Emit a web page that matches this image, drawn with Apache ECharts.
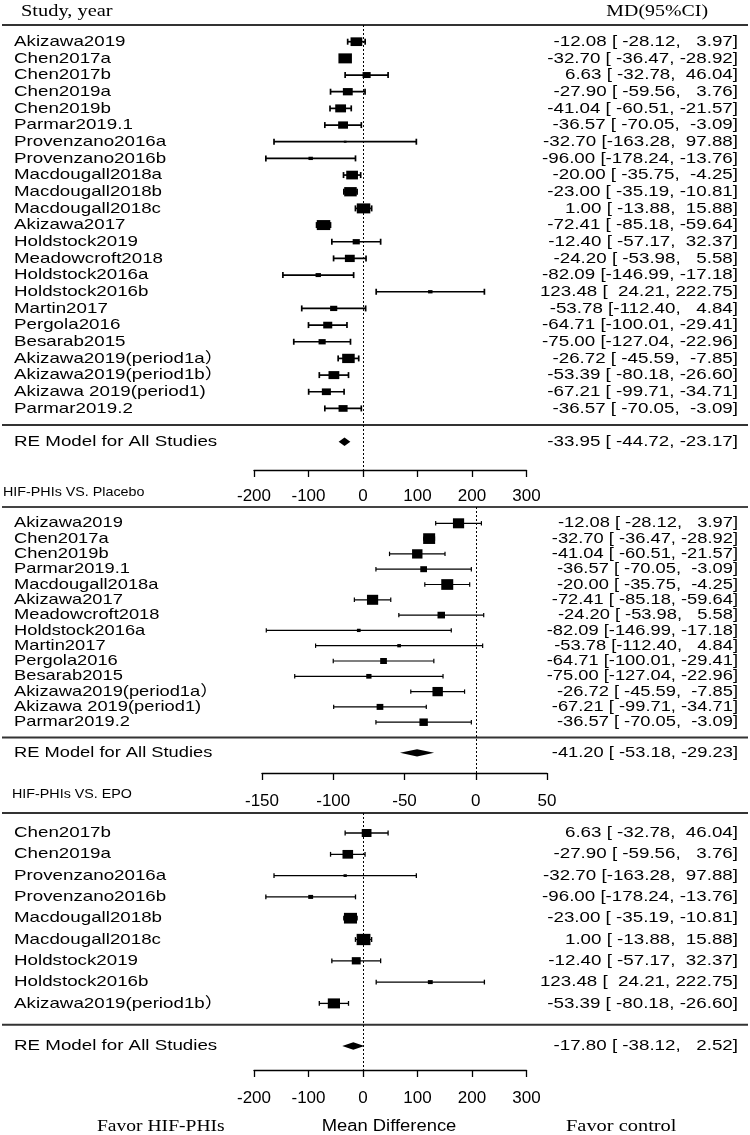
<!DOCTYPE html>
<html><head><meta charset="utf-8">
<script src="https://cdn.jsdelivr.net/npm/echarts@6/dist/echarts.min.js"></script>
<style>html,body{margin:0;padding:0;background:#fff}#c{width:750px;height:1135px}</style>
</head><body><div id="c"></div>
<script>
// ---------------- DATA ----------------
// Panel 1: all studies (HIF-PHIs vs. Placebo header sits under its axis)
const studies1 = ['Akizawa2019','Chen2017a','Chen2017b','Chen2019a','Chen2019b','Parmar2019.1','Provenzano2016a','Provenzano2016b','Macdougall2018a','Macdougall2018b','Macdougall2018c','Akizawa2017','Holdstock2019','Meadowcroft2018','Holdstock2016a','Holdstock2016b','Martin2017','Pergola2016','Besarab2015','Akizawa2019(period1a）','Akizawa2019(period1b）','Akizawa 2019(period1)','Parmar2019.2'];
const md1 = [-12.08,-32.70,6.63,-27.90,-41.04,-36.57,-32.70,-96.00,-20.00,-23.00,1.00,-72.41,-12.40,-24.20,-82.09,123.48,-53.78,-64.71,-75.00,-26.72,-53.39,-67.21,-36.57];
const lo1 = [-28.12,-36.47,-32.78,-59.56,-60.51,-70.05,-163.28,-178.24,-35.75,-35.19,-13.88,-85.18,-57.17,-53.98,-146.99,24.21,-112.40,-100.01,-127.04,-45.59,-80.18,-99.71,-70.05];
const hi1 = [3.97,-28.92,46.04,3.76,-21.57,-3.09,97.88,-13.76,-4.25,-10.81,15.88,-59.64,32.37,5.58,-17.18,222.75,4.84,-29.41,-22.96,-7.85,-26.60,-34.71,-3.09];
const weight1 = [8.7,10,6,7.3,8,7.3,2,3.3,8.7,9.3,10,10,5.3,7.3,4,3.3,5.3,6.7,5.3,9.3,8,6.7,6.7];
const pooled1 = [-33.95,-44.72,-23.17];
const ticks1 = [-200,-100,0,100,200,300];
const title1 = 'HIF-PHIs VS. Placebo';

// Panel 2
const studies2 = ['Akizawa2019','Chen2017a','Chen2019b','Parmar2019.1','Macdougall2018a','Akizawa2017','Meadowcroft2018','Holdstock2016a','Martin2017','Pergola2016','Besarab2015','Akizawa2019(period1a）','Akizawa 2019(period1)','Parmar2019.2'];
const md2 = [-12.08,-32.70,-41.04,-36.57,-20.00,-72.41,-24.20,-82.09,-53.78,-64.71,-75.00,-26.72,-67.21,-36.57];
const lo2 = [-28.12,-36.47,-60.51,-70.05,-35.75,-85.18,-53.98,-146.99,-112.40,-100.01,-127.04,-45.59,-99.71,-70.05];
const hi2 = [3.97,-28.92,-21.57,-3.09,-4.25,-59.64,5.58,-17.18,4.84,-29.41,-22.96,-7.85,-34.71,-3.09];
const weight2 = [10,10.7,9.3,6,10.7,10,6.7,3.3,3.3,6,4.7,9.3,6,7.5];
const pooled2 = [-41.20,-53.18,-29.23];
const ticks2 = [-150,-100,-50,0,50];
const title2 = 'HIF-PHIs VS. EPO';

// Panel 3
const studies3 = ['Chen2017b','Chen2019a','Provenzano2016a','Provenzano2016b','Macdougall2018b','Macdougall2018c','Holdstock2019','Holdstock2016b','Akizawa2019(period1b）'];
const md3 = [6.63,-27.90,-32.70,-96.00,-23.00,1.00,-12.40,123.48,-53.39];
const lo3 = [-32.78,-59.56,-163.28,-178.24,-35.19,-13.88,-57.17,24.21,-80.18];
const hi3 = [46.04,3.76,97.88,-13.76,-10.81,15.88,32.37,222.75,-26.60];
const weight3 = [8,8.7,2.7,4,10.7,11.3,7.3,4,10];
const pooled3 = [-17.80,-38.12,2.52];
const ticks3 = [-200,-100,0,100,200,300];

const pooledLabel = 'RE Model for All Studies';
const headerLeft = 'Study, year';
const headerRight = 'MD(95%CI)';
const footLeft = 'Favor HIF-PHIs';
const footMid = 'Mean Difference';
const footRight = 'Favor control';

// ---------------- LAYOUT / STYLE ----------------
const SANS = "'Liberation Sans', Arial, 'Noto Sans CJK SC', sans-serif";
const SERIF = "'Liberation Serif', 'Times New Roman', serif";
const LEFT_X = 14, RIGHT_X = 738;

const panels = [
  {names:studies1, md:md1, lo:lo1, hi:hi1, w:weight1, pooled:pooled1, ticks:ticks1,
   left:254, right:526.5, top:25, axisY:470, firstRowY:41.7, rowH:16.67,
   aspect:1.35, lw:1.7, wh:3, dh:4.3, sx:1.25, labelMargin:17.5},
  {names:studies2, md:md2, lo:lo2, hi:hi2, w:weight2, pooled:pooled2, ticks:ticks2,
   left:262, right:547, top:507, axisY:773, firstRowY:523.3, rowH:15.3,
   aspect:1.12, lw:1.2, wh:2.2, dh:3.6, sx:1.22, labelMargin:19.5},
  {names:studies3, md:md3, lo:lo3, hi:hi3, w:weight3, pooled:pooled3, ticks:ticks3,
   left:254, right:526.5, top:813, axisY:1070, firstRowY:833, rowH:21.3,
   aspect:1.22, lw:1.3, wh:2.4, dh:3.7, sx:1.25, labelMargin:19.5}
];

function pad(s, n) { while (s.length < n) s = ' ' + s; return s; }
function fmt(m, l, h) { return m.toFixed(2) + ' [' + pad(l.toFixed(2), 7) + ',' + pad(h.toFixed(2), 7) + ']'; }

function txt(x, y, text, font, align, sx) {
  return {type:'text', x:x, y:y, scaleX:sx || 1, silent:true,
    style:{text:text, font:font, fill:'#000', align:align, textAlign:align,
           verticalAlign:'middle', textVerticalAlign:'middle'}};
}

const grids = [], xAxes = [], yAxes = [], series = [];
panels.forEach((p, k) => {
  const yMin = -(p.firstRowY - p.top) / p.rowH;
  const yMax = yMin + (p.axisY - p.top) / p.rowH;
  grids.push({left:p.left, top:p.top, width:p.right - p.left, height:p.axisY - p.top, containLabel:false});
  xAxes.push({gridIndex:k, type:'value', min:p.ticks[0], max:p.ticks[p.ticks.length-1],
    interval:p.ticks[1]-p.ticks[0], position:'bottom',
    axisLine:{show:true, onZero:false, lineStyle:{color:'#000', width:1.3}},
    axisTick:{show:true, inside:false, length:7, lineStyle:{color:'#000', width:1.3}},
    axisLabel:{show:true, margin:p.labelMargin, color:'#000', fontSize:17, fontFamily:SANS},
    splitLine:{show:false}});
  yAxes.push({gridIndex:k, type:'value', inverse:true, min:yMin, max:yMax, show:false});
  const n = p.names.length;
  const font = '15px ' + SANS;
  // studies
  series.push({type:'custom', xAxisIndex:k, yAxisIndex:k, clip:false, silent:true,
    data:p.md.map((v, i) => [v, i]), encode:{x:0, y:1},
    renderItem:function (params, api) {
      const i = params.dataIndex;
      const c = api.coord([p.md[i], i]);
      const l = api.coord([p.lo[i], i]);
      const h = api.coord([p.hi[i], i]);
      const y = c[1];
      const sh = p.w[i], sw = sh * p.aspect;
      const st = {stroke:'#000', lineWidth:p.lw};
      return {type:'group', children:[
        {type:'line', shape:{x1:l[0], y1:y, x2:h[0], y2:y}, style:st},
        {type:'line', shape:{x1:l[0], y1:y-p.wh, x2:l[0], y2:y+p.wh}, style:st},
        {type:'line', shape:{x1:h[0], y1:y-p.wh, x2:h[0], y2:y+p.wh}, style:st},
        {type:'rect', shape:{x:c[0]-sw/2, y:y-sh/2, width:sw, height:sh}, style:{fill:'#000'}},
        txt(LEFT_X, y, p.names[i], font, 'left', p.sx),
        txt(RIGHT_X, y, fmt(p.md[i], p.lo[i], p.hi[i]), font, 'right', p.sx)
      ]};
    },
    markLine:{silent:true, symbol:'none', animation:false, label:{show:false},
      lineStyle:{type:[2,2], color:'#000', width:1}, data:[{xAxis:0}]}
  });
  // pooled estimate + separator
  series.push({type:'custom', xAxisIndex:k, yAxisIndex:k, clip:false, silent:true,
    data:[[p.pooled[0], n + 1]], encode:{x:0, y:1},
    renderItem:function (params, api) {
      const c = api.coord([p.pooled[0], n + 1]);
      const l = api.coord([p.pooled[1], n + 1]);
      const h = api.coord([p.pooled[2], n + 1]);
      const sepY = api.coord([0, n])[1];
      const y = c[1];
      return {type:'group', children:[
        {type:'line', shape:{x1:2, y1:sepY, x2:748, y2:sepY}, style:{stroke:'#333', lineWidth:2}},
        {type:'polygon', shape:{points:[[l[0], y], [c[0], y-p.dh], [h[0], y], [c[0], y+p.dh]]}, style:{fill:'#000'}},
        txt(LEFT_X, y, pooledLabel, font, 'left', p.sx),
        txt(RIGHT_X, y, fmt(p.pooled[0], p.pooled[1], p.pooled[2]), font, 'right', p.sx)
      ]};
    }
  });
});

const graphics = [
  {type:'line', shape:{x1:2, y1:panels[0].top, x2:748, y2:panels[0].top}, style:{stroke:'#333', lineWidth:2}},
  {type:'line', shape:{x1:2, y1:panels[1].top, x2:748, y2:panels[1].top}, style:{stroke:'#444', lineWidth:2}},
  {type:'line', shape:{x1:2, y1:panels[2].top, x2:748, y2:panels[2].top}, style:{stroke:'#333', lineWidth:2}},
  txt(21, 12, headerLeft, '17px ' + SERIF, 'left', 1.2),
  txt(708, 12, headerRight, '17px ' + SERIF, 'right', 1.17),
  txt(3, 492, title1, '13px ' + SANS, 'left', 1.1),
  txt(12, 794, title2, '13px ' + SANS, 'left', 1.1),
  txt(97, 1127, footLeft, '17px ' + SERIF, 'left', 1.15),
  txt(389, 1127, footMid, '16px ' + SANS, 'center', 1.15),
  txt(566, 1127, footRight, '17px ' + SERIF, 'left', 1.2)
];

const chart = echarts.init(document.getElementById('c'), null, {renderer:'canvas'});
chart.setOption({
  animation:false,
  backgroundColor:'#fff',
  grid:grids, xAxis:xAxes, yAxis:yAxes, series:series,
  graphic:{elements:graphics}
});
</script></body></html>
